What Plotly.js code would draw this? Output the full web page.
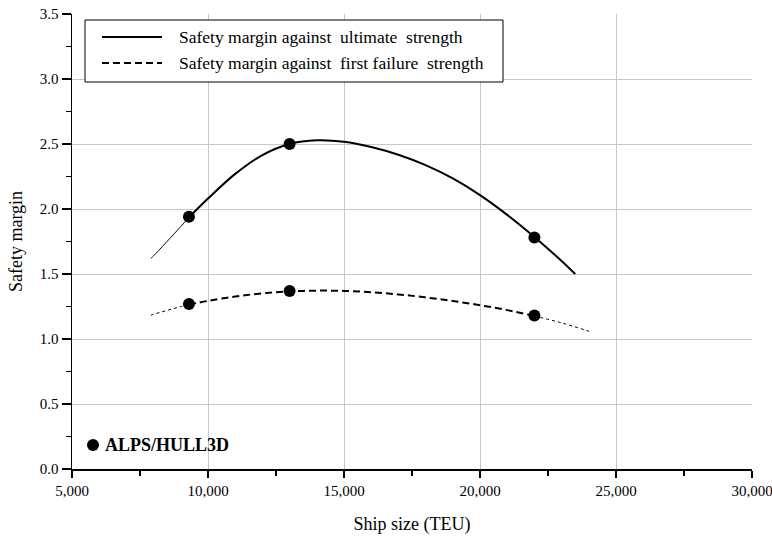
<!DOCTYPE html>
<html>
<head>
<meta charset="utf-8">
<script src="https://cdn.plot.ly/plotly-3.0.1.min.js"></script>
<style>
  html, body { margin: 0; padding: 0; background: #fff; }
  #chart { width: 772px; height: 538px; }
</style>
</head>
<body>
<div id="chart"></div>
<script>
// Computed safety margins (ALPS/HULL3D) for three container ship sizes
const shipTEU = [9300, 13000, 22000];
const ultimateMargin = [1.94, 2.50, 1.78];
const firstFailureMargin = [1.27, 1.37, 1.18];

// Trend curves through the computed points
const ultimateCurveX = [7900, 8000, 9000, 9300, 10000, 11000, 12000, 13000, 14000, 15000,
                        16000, 17000, 18000, 19000, 20000, 21000, 22000, 23000, 23500];
const ultimateCurveY = [1.62, 1.64, 1.865, 1.935, 2.08, 2.27, 2.415, 2.50, 2.528, 2.517,
                        2.477, 2.417, 2.337, 2.235, 2.107, 1.955, 1.785, 1.60, 1.50];
const firstCurveX = [7900, 8000, 9000, 9300, 10000, 11000, 12000, 13000, 14000, 15000,
                     16000, 17000, 18000, 19000, 20000, 21000, 22000, 23000, 24000, 24050];
const firstCurveY = [1.183, 1.19, 1.249, 1.265, 1.293, 1.327, 1.351, 1.366, 1.372, 1.370,
                     1.360, 1.343, 1.320, 1.292, 1.26, 1.222, 1.177, 1.124, 1.06, 1.056];

// Ranges of each curve that are drawn heavy (inside the computed range)
const ultimateHeavy = [9300, 23500];
const firstHeavy = [9300, 22000];

const xTickVals = [5000, 10000, 15000, 20000, 25000, 30000];
const yTickVals = [0, 0.5, 1.0, 1.5, 2.0, 2.5, 3.0, 3.5];

const legendLabels = ['Safety margin against  ultimate  strength',
                      'Safety margin against  first failure  strength'];
const markerLabel = 'ALPS/HULL3D';

const W = 772, H = 538;
const M = { l: 72, r: 20, t: 14, b: 69 };
const PW = W - M.l - M.r, PH = H - M.t - M.b;
const px = x => (x - M.l) / PW;
const py = y => (H - M.b - y) / PH;

// split a curve into pieces inside / outside a heavy range
function piece(xs, ys, lo, hi) {
  const ox = [], oy = [];
  xs.forEach((x, i) => { if (x >= lo && x <= hi) { ox.push(x); oy.push(ys[i]); } });
  return { x: ox, y: oy };
}

const serif = 'Liberation Serif';
const traces = [];
function curve(p, width, dash) {
  traces.push({
    x: p.x, y: p.y, type: 'scatter', mode: 'lines',
    line: { color: '#000', width: width, dash: dash, shape: 'spline', smoothing: 1 },
    hoverinfo: 'skip', showlegend: false
  });
}

curve(piece(ultimateCurveX, ultimateCurveY, -Infinity, ultimateHeavy[0]), 1, 'solid');
curve(piece(ultimateCurveX, ultimateCurveY, ultimateHeavy[0], ultimateHeavy[1]), 2, 'solid');
curve(piece(firstCurveX, firstCurveY, -Infinity, firstHeavy[0]), 1, '3px,3px');
curve(piece(firstCurveX, firstCurveY, firstHeavy[0], firstHeavy[1]), 2, '7px,4px');
curve(piece(firstCurveX, firstCurveY, firstHeavy[1], Infinity), 1, '3px,3px');

[ultimateMargin, firstFailureMargin].forEach(vals => {
  traces.push({
    x: shipTEU, y: vals, type: 'scatter', mode: 'markers',
    marker: { color: '#000', size: 12, symbol: 'circle' },
    showlegend: false
  });
});

// hand-drawn key
const shapes = [
  { type: 'rect', xref: 'paper', yref: 'paper',
    x0: px(85), x1: px(503), y0: py(82), y1: py(20),
    line: { color: '#000', width: 1 }, fillcolor: '#fff', layer: 'above' },
  { type: 'line', xref: 'paper', yref: 'paper',
    x0: px(102), x1: px(162), y0: py(37), y1: py(37),
    line: { color: '#000', width: 2 }, layer: 'above' },
  { type: 'line', xref: 'paper', yref: 'paper',
    x0: px(102), x1: px(162), y0: py(63), y1: py(63),
    line: { color: '#000', width: 2, dash: '7px,4px' }, layer: 'above' },
  { type: 'circle', xref: 'paper', yref: 'paper',
    x0: px(87), x1: px(99), y0: py(451), y1: py(439),
    line: { color: '#000', width: 0 }, fillcolor: '#000', layer: 'above' }
];

const annotations = [
  { text: legendLabels[0], xref: 'paper', yref: 'paper', x: px(177), y: py(37),
    xanchor: 'left', yanchor: 'middle', showarrow: false,
    font: { family: serif, size: 17.5, color: '#000' } },
  { text: legendLabels[1], xref: 'paper', yref: 'paper', x: px(177), y: py(63),
    xanchor: 'left', yanchor: 'middle', showarrow: false,
    font: { family: serif, size: 17.5, color: '#000' } },
  { text: '<b>' + markerLabel + '</b>', xref: 'paper', yref: 'paper', x: px(103), y: py(445),
    xanchor: 'left', yanchor: 'middle', showarrow: false,
    font: { family: serif, size: 18, color: '#000' } }
];

const layout = {
  width: W, height: H,
  margin: M,
  paper_bgcolor: '#fff', plot_bgcolor: '#fff',
  font: { family: serif, color: '#000' },
  showlegend: false,
  xaxis: {
    range: [5000, 30000], tickvals: xTickVals, tickformat: ',d',
    ticklabeloverflow: 'allow',
    showline: true, linecolor: '#000', linewidth: 1.5,
    ticks: 'outside', ticklen: 7, tickwidth: 1.5, tickcolor: '#000',
    minor: { tick0: 5000, dtick: 2500, ticks: 'outside', ticklen: 5, tickwidth: 1.5, tickcolor: '#000', showgrid: false },
    showgrid: true, gridcolor: '#c8c8c8', gridwidth: 1, zeroline: false,
    tickfont: { family: serif, size: 15 },
    title: { text: 'Ship size (TEU)', font: { family: serif, size: 18 }, standoff: 20 }
  },
  yaxis: {
    range: [0, 3.5], tickvals: yTickVals, tickformat: '.1f',
    showline: true, linecolor: '#000', linewidth: 1.5,
    ticks: 'outside', ticklen: 9, tickwidth: 1.5, tickcolor: '#000',
    minor: { tick0: 0, dtick: 0.25, ticks: 'outside', ticklen: 5, tickwidth: 1.5, tickcolor: '#000', showgrid: false },
    showgrid: true, gridcolor: '#c8c8c8', gridwidth: 1, zeroline: false,
    tickfont: { family: serif, size: 15 },
    title: { text: 'Safety margin', font: { family: serif, size: 18 }, standoff: 12 }
  },
  shapes: shapes,
  annotations: annotations
};

Plotly.newPlot('chart', traces, layout, { displayModeBar: false, staticPlot: true });
</script>
</body>
</html>
